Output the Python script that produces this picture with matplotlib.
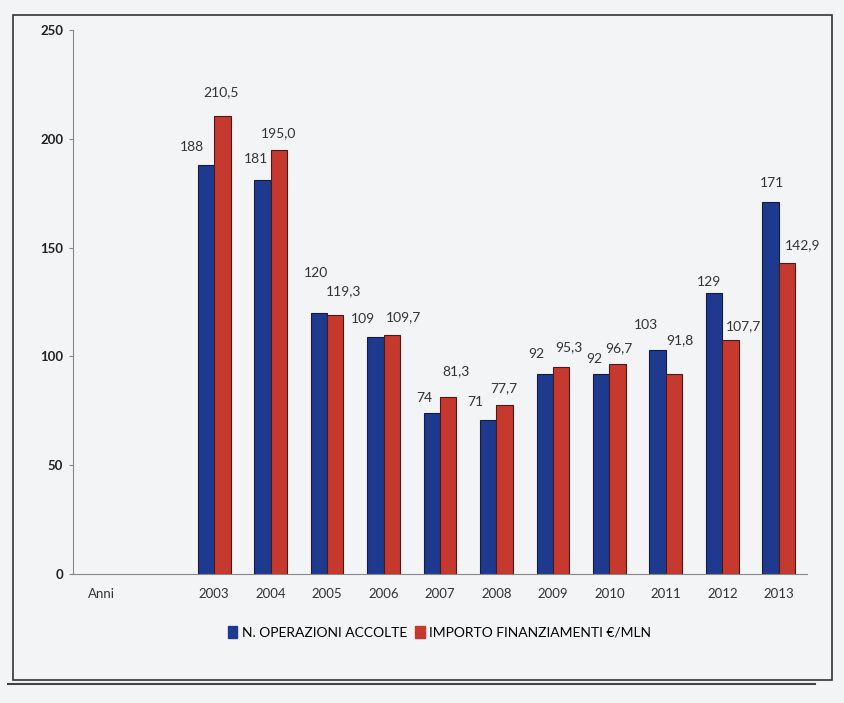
import matplotlib.pyplot as plt
import numpy as np
from matplotlib.patches import Rectangle
from matplotlib.lines import Line2D

plt.rcParams['font.family'] = ['Lato', 'DejaVu Sans']

# data
categorie = ['Anni', '', '2003', '2004', '2005', '2006', '2007', '2008',
             '2009', '2010', '2011', '2012', '2013']
operazioni = [188, 181, 120, 109, 74, 71, 92, 92, 103, 129, 171]
importo = [210.5, 195.0, 119.3, 109.7, 81.3, 77.7, 95.3, 96.7, 91.8, 107.7, 142.9]
serie = ['N. OPERAZIONI ACCOLTE', 'IMPORTO FINANZIAMENTI €/MLN']

# label offsets in pixels (dx, dy above the bar top), as placed in the original
off_blu = [(-14, 18), (-6, 21), (-3, 40), (-12, 18), (-7, 15), (-13, 18),
           (-8, 20), (-7, 15), (-12, 25), (-5, 11), (1, 19)]
off_ros = [(-1, 24), (0, 17), (8, 23), (12, 18), (8, 26), (-1, 17),
           (8, 20), (1, 16), (6, 34), (13, 14), (16, 18)]
px = 72 / 100

bg = '#f3f4f6'
blu = '#1d3a8f'
rosso = '#c6392e'

fig = plt.figure(figsize=(8.45, 7.03), dpi=100, facecolor=bg)
ax = fig.add_axes([0.0864, 0.1835, 0.8686, 0.7735])
ax.set_facecolor(bg)

x = np.arange(len(categorie))
xa = x[2:]
w = 0.29
ax.bar(xa - w/2, operazioni, w, color=blu, edgecolor='#1a1a40', linewidth=0.8, label=serie[0])
ax.bar(xa + w/2, importo, w, color=rosso, edgecolor='#4a1a1a', linewidth=0.8, label=serie[1])

for i in range(len(operazioni)):
    ax.annotate(str(operazioni[i]), (xa[i] - w/2, operazioni[i]),
                xytext=(off_blu[i][0] * px, off_blu[i][1] * px),
                textcoords='offset points', ha='center', va='center', fontsize=10, color='#333333')
    ax.annotate(('%.1f' % importo[i]).replace('.', ','), (xa[i] + w/2, importo[i]),
                xytext=(off_ros[i][0] * px, off_ros[i][1] * px),
                textcoords='offset points', ha='center', va='center', fontsize=10, color='#333333')

ax.set_xlim(-0.5, len(categorie) - 0.5)
ax.set_ylim(0, 250)
ax.set_yticks([0, 50, 100, 150, 200, 250])
ax.set_xticks(x)
ax.set_xticklabels(categorie, fontsize=9.5, color='#333333')
ax.tick_params(axis='x', length=0, pad=10)
ax.tick_params(axis='y', length=3, color='#888888', labelsize=9.5, labelcolor='#222222', pad=4)
for t in ax.get_yticklabels():
    t.set_fontweight('bold')
for s in ['top', 'right']:
    ax.spines[s].set_visible(False)
ax.spines['left'].set_color('#888888')
ax.spines['bottom'].set_color('#888888')

h = [Rectangle((0, 0), 1, 1, color=blu), Rectangle((0, 0), 1, 1, color=rosso)]
fig.legend(h, serie, loc='center', bbox_to_anchor=(0.52, 0.1), ncol=2, frameon=False,
           fontsize=10, handlelength=0.7, handleheight=0.9, handletextpad=0.3, columnspacing=0.6)

# frame of the scanned box
fig.add_artist(Rectangle((0.015, 0.033), 0.97, 0.945, transform=fig.transFigure,
                         fill=False, edgecolor='#333333', linewidth=1.2))
fig.add_artist(Line2D([0.01, 0.965], [0.027, 0.027], transform=fig.transFigure,
                      color='#444444', linewidth=1.5))

plt.savefig('out.png', dpi=100, facecolor=bg)
